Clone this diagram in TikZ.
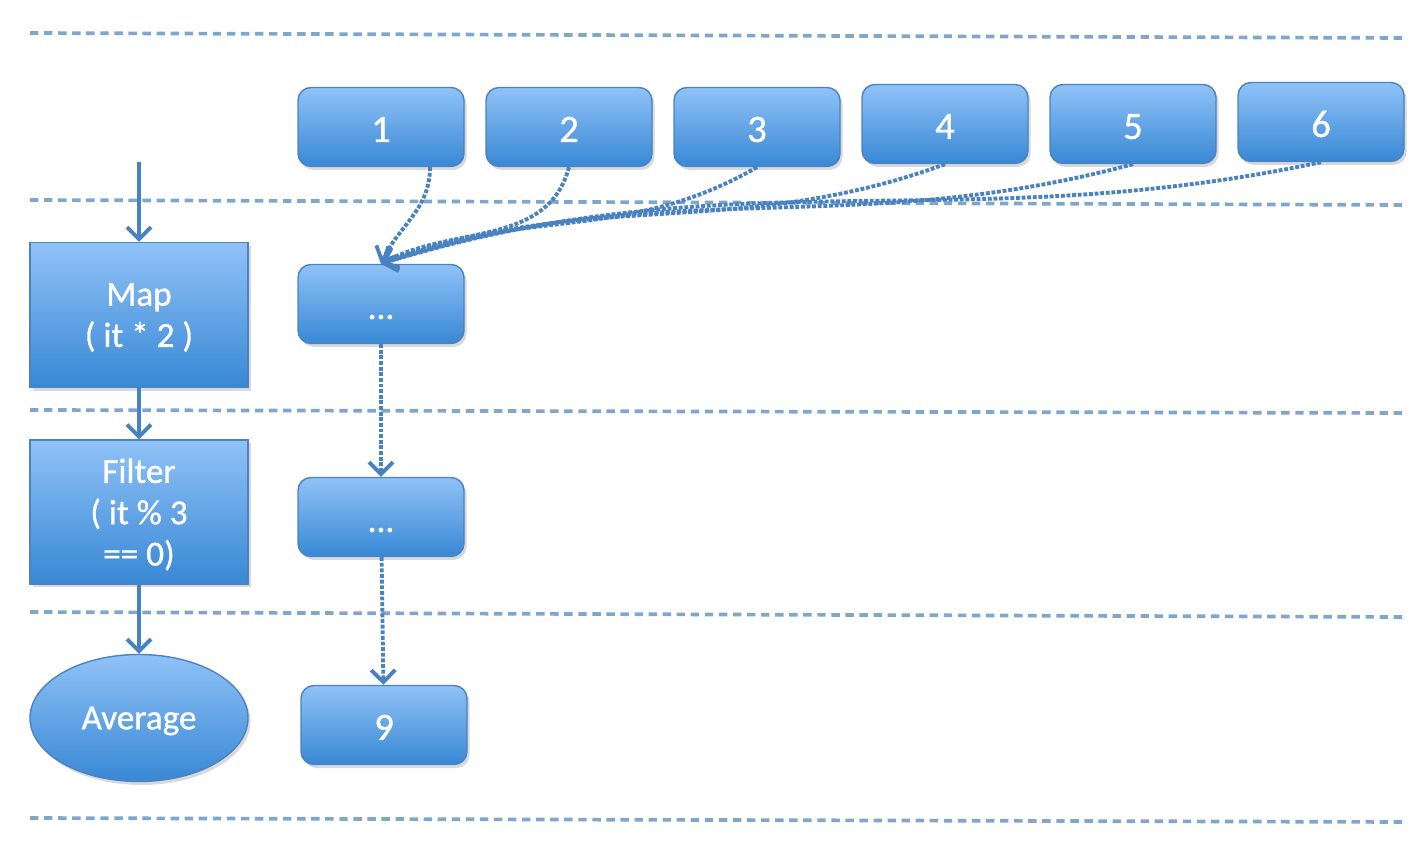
\documentclass[tikz,border=0pt]{standalone}
\usepackage{fontspec}
\setmainfont{Carlito}[FakeBold=0.9]
\usetikzlibrary{calc,arrows.meta,shapes,shadows,positioning}

\definecolor{boxtop}{RGB}{144,194,247}
\definecolor{boxbot}{RGB}{56,136,213}
\definecolor{boxline}{RGB}{74,130,194}
\definecolor{laneline}{RGB}{128,166,204}
\definecolor{flowline}{RGB}{72,130,192}

\begin{document}
\begin{tikzpicture}
[
  >={Straight Barb[length=2.4mm,width=4.8mm]}
, every node/.style={font=\fontsize{20}{23.5}\selectfont, text=white, align=center}
, lane/.style={laneline, line width=2.1pt, dash pattern=on 4.8pt off 3.2pt}
, box/.style={draw=boxline, line width=0.8pt, top color=boxtop, bottom color=boxbot,
    drop shadow={shadow xshift=0.05cm, shadow yshift=-0.07cm, opacity=0.3}}
, op/.style={box, rectangle, minimum width=4.36cm, minimum height=2.9cm, inner sep=0pt, text depth=0pt}
, item/.style={box, rectangle, rounded corners=0.26cm, minimum width=3.32cm, minimum height=1.58cm,
    font=\fontsize{22}{26}\selectfont, text height=17pt, text depth=0pt}
, flow/.style={flowline, line width=2.2pt, ->}
, dotflow/.style={flowline, line width=2.2pt, densely dotted, ->}
]

\useasboundingbox (0,0) rectangle (28.52,17);

% lanes
\draw[lane] (0.6,16.34) -- (28.1,16.24);
\draw[lane] (0.6,13.0) -- (28.1,12.9);
\draw[lane] (0.6,8.8) -- (28.1,8.74);
\draw[lane] (0.6,4.76) -- (28.1,4.66);
\draw[lane] (0.6,0.64) -- (28.1,0.56);

% operations
\coordinate (in) at (2.78,13.76);
\node[op] (map) at (2.78,10.7) {Map\\( it * 2 )};
\node[op, minimum height=2.88cm] (filter) at (2.78,6.76) {Filter\\( it \% 3\\== 0)};
\node[box, ellipse, minimum width=4.36cm, minimum height=2.54cm, inner sep=0pt, text depth=0pt] (avg) at (2.78,2.64) {Average};

\draw[flow] (in) -- (map);
\draw[flow] (map) -- (filter);
\draw[flow] (filter) -- (avg);

% source values
\node[item] (v1) at (7.62,14.46) {1};
\node[item] (v2) at (11.38,14.46) {2};
\node[item] (v3) at (15.14,14.46) {3};
\node[item] (v4) at (18.9,14.52) {4};
\node[item] (v5) at (22.66,14.52) {5};
\node[item] (v6) at (26.42,14.56) {6};

% intermediate values
\node[item, font=\fontsize{20}{23.5}\selectfont] (mapped) at (7.62,10.92) {...};
\node[item, font=\fontsize{20}{23.5}\selectfont] (kept) at (7.62,6.66) {...};
\node[item] (res) at (7.68,2.5) {9};

% element flow
\draw[dotflow] ($(v1.south)+(0.98,0)$) to[out=-90,in=65] (mapped.north);
\draw[dotflow] (v2.south) to[out=-105,in=28] (mapped.north);
\draw[dotflow] (v3.south) to[out=-150,in=22] (mapped.north);
\draw[dotflow] (v4.south) to[out=-160,in=20] (mapped.north);
\draw[dotflow] (v5.south) to[out=-165,in=18] (mapped.north);
\draw[dotflow] (v6.south) to[out=-168,in=17] (mapped.north);
\draw[dotflow] (mapped) -- (kept);
\draw[dotflow] (kept) -- (res);

\end{tikzpicture}
\end{document}
